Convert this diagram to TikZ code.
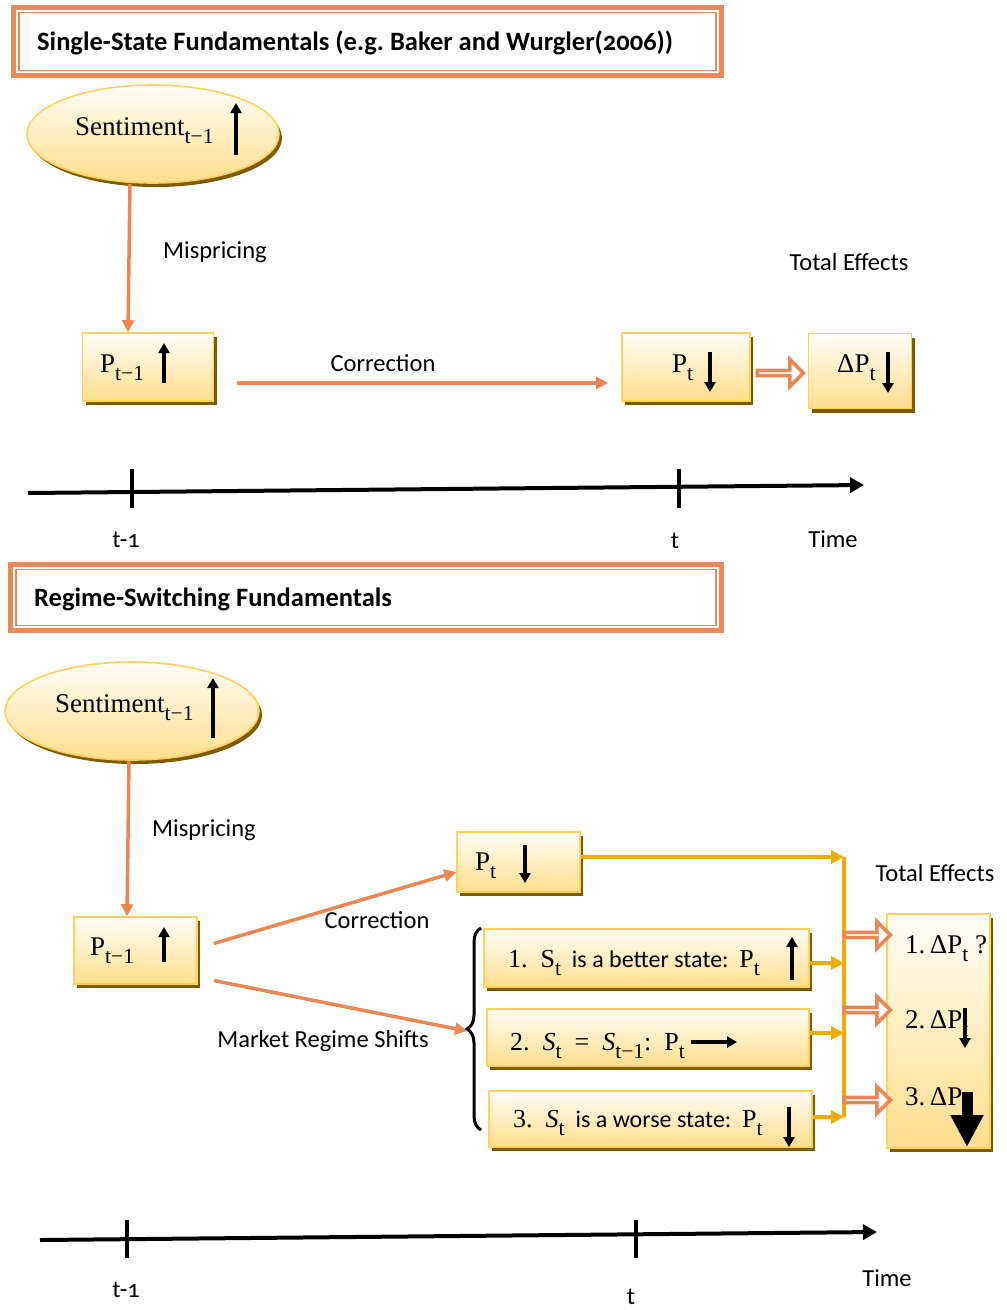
\documentclass[tikz,border=0pt]{standalone}
\usepackage{fontspec}
\setmainfont{Carlito}[Numbers=OldStyle]
\newfontfamily\sr{Liberation Serif}
\usetikzlibrary{arrows.meta,shapes.geometric,shapes.arrows,shadows,decorations.pathreplacing,calc}
\definecolor{orng}{RGB}{233,134,82}
\definecolor{tor}{RGB}{233,137,88}
\definecolor{ybord}{RGB}{255,208,92}
\definecolor{ytop}{RGB}{255,253,246}
\definecolor{ybot}{RGB}{255,222,140}
\definecolor{shad}{RGB}{125,92,0}
\definecolor{yln}{RGB}{241,172,0}
\frenchspacing
\newcommand\sbx[1]{\raisebox{-0.32em}{\fontsize{21.5}{22}\selectfont #1}}
\tikzset{
  ybox/.style={draw=ybord, line width=1.6pt, top color=ytop, bottom color=ybot, inner sep=0pt,
    drop shadow={shadow xshift=3pt, shadow yshift=-4pt, fill=shad, opacity=1}},
  yell/.style={ellipse, draw=ybord, line width=1.6pt, top color=ytop, bottom color=ybot, inner sep=0pt,
    drop shadow={shadow xshift=3pt, shadow yshift=-4pt, fill=shad, opacity=1}},
  tbox/.style={draw=tor, line width=5pt, fill=white, inner sep=0pt, outer sep=0pt},
  tin/.style={draw=tor, line width=1.5pt},
  ttl/.style={font=\fontsize{26.5}{30}\selectfont\bfseries, anchor=base west, inner sep=0pt},
  srt/.style={font=\fontsize{27}{30}\selectfont\sr, anchor=base west, inner sep=0pt},
  btx/.style={font=\fontsize{24}{28}\selectfont, anchor=base west, inner sep=0pt},
  lbl/.style={font=\fontsize{24.5}{28}\selectfont, inner sep=0pt},
  blk/.style={line width=3.5pt, -{Triangle[width=11pt,length=10pt]}},
  bigblk/.style={line width=11pt, -{Triangle[width=31pt,length=32pt]}},
  oarr/.style={draw=orng, line width=3.5pt, -{Triangle[width=12pt,length=12pt]}},
  yarr/.style={draw=yln, line width=4pt, -{Triangle[width=13pt,length=13pt]}},
  yline/.style={draw=yln, line width=4pt},
  hol/.style={single arrow, draw=orng, fill=white, line width=3.5pt, minimum height=46pt,
    minimum width=27pt, single arrow head extend=7pt, inner sep=0pt},
  tl/.style={line width=4pt, -{Triangle[width=15pt,length=14pt]}},
  tk/.style={line width=3.5pt},
  brc/.style={line width=3pt, decorate, decoration={brace, amplitude=14pt}}
}
\begin{document}
\begin{tikzpicture}[x=1pt,y=-1pt]
\useasboundingbox (0,0) rectangle (1007,1310);
% ===== Section 1 =====
\node[tbox, minimum width=708pt, minimum height=68pt] (tb1) at (367.5,41.5) {};
\draw[tin] ($(tb1.north west)+(5.5,5)$) rectangle ($(tb1.south east)+(-5.5,-5)$);
\node[ttl] (tt1) at (37,50) {Single-State Fundamentals (e.g. Baker and Wurgler(2006))};

\node[yell, minimum width=252pt, minimum height=98pt] (e1) at (153,134) {};
\node[srt] (e1t) at (75,135) {Sentiment\sbx{t−1}};
\draw[blk] (236,155) -- (236,103);

\node[ybox, minimum width=131pt, minimum height=68pt] (b1) at (148,367) {};
\node[srt] (b1t) at (100,372) {P\sbx{t−1}};
\draw[blk] (164,383) -- (164,343);

\draw[oarr] ([xshift=-23pt]e1.south) -- ([xshift=-20pt]b1.north);
\node[lbl] (m1) at (215,252) {Mispricing};

\node[ybox, minimum width=128pt, minimum height=68pt] (b2) at (686,367) {};
\node[srt] (b2t) at (672,372) {P\sbx{t}};
\draw[blk] (710,352) -- (710,392);

\draw[oarr] ([xshift=23pt,yshift=-16pt]b1.east) -- ([xshift=-13pt,yshift=-16pt]b2.west);
\node[lbl] (c1) at (383,363) {Correction};

\node[hol] (h1) at (779,373) {};
\node[ybox, minimum width=103pt, minimum height=75pt] (b3) at (860,371) {};
\node[srt] (b3t) at (837,372) {ΔP\sbx{t}};
\draw[blk] (888,352) -- (888,393);
\node[lbl] (te1) at (849,262) {Total Effects};

\coordinate (a0) at (28,493);
\coordinate (a1) at (864,485);
\draw[tl] (a0) -- (a1);
\draw[tk] (132,469) -- (132,508);
\draw[tk] (679,469) -- (679,508);
\node[lbl] (l1) at (126,540) {t-1};
\node[lbl] (l2) at (675,541) {t};
\node[lbl] (l3) at (833,539) {Time};

% ===== Section 2 =====
\node[tbox, minimum width=711pt, minimum height=66pt] (tb2) at (366,597.5) {};
\draw[tin] ($(tb2.north west)+(5.5,5)$) rectangle ($(tb2.south east)+(-5.5,-5)$);
\node[ttl] (tt2) at (34,606) {Regime-Switching Fundamentals};

\node[yell, minimum width=254pt, minimum height=98pt] (e2) at (132,711) {};
\node[srt] (e2t) at (55,712) {Sentiment\sbx{t−1}};
\draw[blk] (213,738) -- (213,678);

\node[ybox, minimum width=123pt, minimum height=67pt] (b4) at (135.5,950.5) {};
\node[srt] (b4t) at (90,955) {P\sbx{t−1}};
\draw[blk] (164,962) -- (164,927);

\draw[oarr] ([xshift=-3pt]e2.south) -- ([xshift=-8.5pt]b4.north);
\node[lbl] (m2) at (204,830) {Mispricing};

\node[ybox, minimum width=123pt, minimum height=60pt] (pt2) at (518.5,862) {};
\node[srt] (pt2t) at (475,870) {P\sbx{t}};
\draw[blk] (525,845) -- (525,883);

\coordinate (btip) at (467,1031);
\draw[brc] (481,1130) -- (481,928);

\draw[oarr] ([xshift=16pt,yshift=7pt]b4.east) -- ([yshift=-10pt]pt2.west);
\draw[oarr] ([xshift=16pt,yshift=-30pt]b4.east) -- (btip);
\node[lbl] (c2) at (377,920) {Correction};
\node[lbl] (mk) at (323,1041) {Market Regime Shifts};

\node[ybox, minimum width=325pt, minimum height=58pt] (s1) at (646.5,958) {};
\node[btx] (s1t) at (508,967) {{\sr\fontsize{26}{28}\selectfont 1.\ \ S\sbx{t}}\ \ is a better state:\ \ {\sr\fontsize{26}{28}\selectfont P\sbx{t}}};
\draw[blk] (792,980) -- (792,937);

\node[ybox, minimum width=322pt, minimum height=57pt] (s2) at (648,1037.5) {};
\node[btx] (s2t) at (510,1050) {\sr\fontsize{26}{28}\selectfont 2.\ \ \textit{S}\sbx{t}\ \ =\ \ \textit{S}\sbx{t−1}:\ \ P\sbx{t}};
\draw[blk] (691,1042) -- (737,1042);

\node[ybox, minimum width=323pt, minimum height=56pt] (s3) at (650.5,1119) {};
\node[btx] (s3t) at (513,1127) {{\sr\fontsize{26}{28}\selectfont 3.\ \ \textit{S}\sbx{t}}\ \ is a worse state:\ \ {\sr\fontsize{26}{28}\selectfont P\sbx{t}}};
\draw[blk] (789,1107) -- (789,1147);

\coordinate (v0) at (844,857);
\coordinate (v1) at (844,963);
\coordinate (v2) at (844,1033);
\coordinate (v3) at (844,1117);
\draw[yline] (v0) -- (v3);
\draw[yarr] (pt2.east |- v0) -- (v0);
\draw[yarr] (s1.east |- v1) -- (v1);
\draw[yarr] (s2.east |- v2) -- (v2);
\draw[yarr] (s3.east |- v3) -- (v3);

\node[ybox, minimum width=103pt, minimum height=234pt] (bb) at (938.5,1031) {};
\node[hol] (h2) at (866,935) {};
\node[hol] (h3) at (866,1010) {};
\node[hol] (h4) at (866,1100) {};
\node[srt] (bb1) at (905,953) {1.\,ΔP\sbx{t} ?};
\node[srt] (bb2) at (905,1028) {2.\,ΔP\sbx{t}};
\node[srt] (bb3) at (905,1105) {3.\,ΔP\sbx{t}};
\draw[blk] (965,1008) -- (965,1048);
\draw[bigblk] (967,1092) -- (967,1147);
\node[lbl] (te2) at (935,873) {Total Effects};

\coordinate (d0) at (40,1240);
\coordinate (d1) at (877,1232);
\draw[tl] (d0) -- (d1);
\draw[tk] (127,1220) -- (127,1258);
\draw[tk] (636,1220) -- (636,1258);
\node[lbl] (l4) at (126,1290) {t-1};
\node[lbl] (l5) at (631,1297) {t};
\node[lbl] (l6) at (887,1278) {Time};
\end{tikzpicture}
\end{document}
